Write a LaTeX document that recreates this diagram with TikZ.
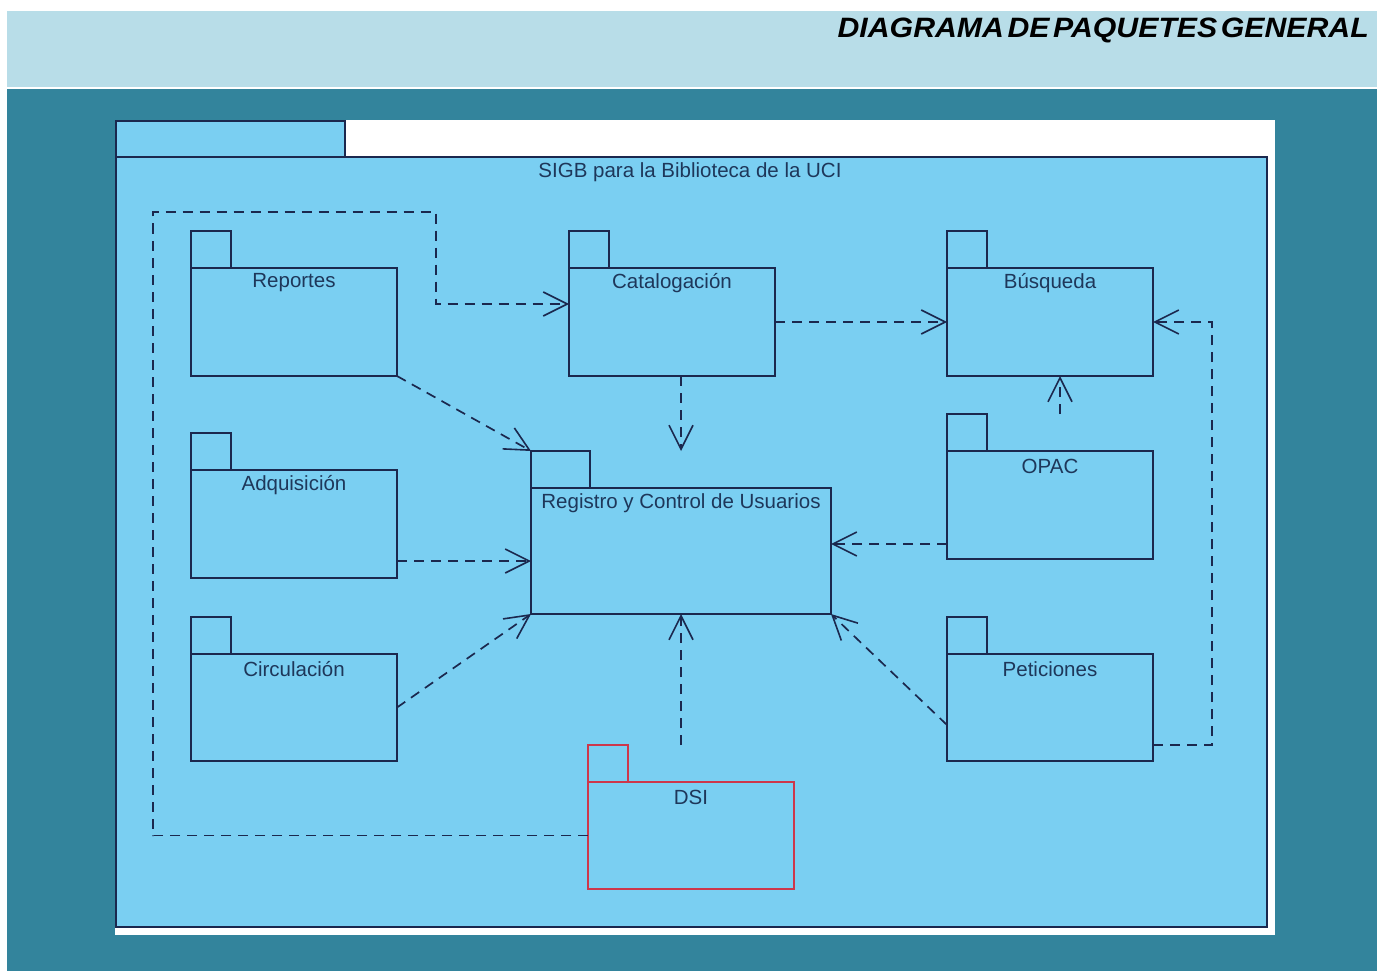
\documentclass[tikz,border=0pt]{standalone}
\usepackage{fontspec}
\setmainfont{Liberation Sans}
\usetikzlibrary{arrows.meta,calc}

\definecolor{band}{RGB}{184,221,232}
\definecolor{teal}{RGB}{51,132,156}
\definecolor{pkgfill}{RGB}{122,207,242}
\definecolor{ink}{RGB}{27,40,78}
\definecolor{txt}{RGB}{30,55,90}
\definecolor{dsired}{RGB}{205,55,75}

\tikzset{
  pkgline/.style={draw=ink, line width=1.8pt, fill=pkgfill, inner sep=0pt, outer sep=0pt},
  lbl/.style={text=txt, font=\fontsize{20.5}{22}\selectfont, inner sep=0pt},
  dep/.style={draw=ink, line width=1.7pt, dash pattern=on 10pt off 7pt,
    -{Straight Barb[length=24pt,width=24pt,line width=1.6pt]}}
}

% package: name, left x, tab top y, tab width, body width, body height, label, outline colour
\newcommand\umlpkg[8]{%
  \node[pkgline, draw=#8, minimum width=#4, minimum height=37, anchor=north west]
    (#1tab) at (#2,#3) {};
  \node[pkgline, draw=#8, minimum width=#5, minimum height=#6, anchor=north west]
    (#1) at (#2,{#3+37}) {};
  \node[lbl] (#1lbl) at ([yshift=-15pt]#1.north) {#7};
}

\begin{document}
\begin{tikzpicture}[x=1pt,y=-1pt]
  % page
  \fill[white] (0,0) rectangle (1377,971);
  \useasboundingbox (0,0) rectangle (1377,971);
  \fill[band] (7,11) rectangle (1377,87);
  \fill[teal] (7,89) rectangle (1377,971);
  \node[anchor=east, inner sep=0pt, text=black] (heading) at (1369,30.5)
    {\scalebox{1.08}[1]{\fontsize{28}{30}\selectfont\bfseries\itshape
      \spaceskip=0.12em DIAGRAMA DE PAQUETES GENERAL}};

  % white sheet and enclosing package
  \fill[white] (115,120) rectangle (1275,935);
  \node[pkgline, line width=1.5pt, minimum width=229, minimum height=36, anchor=north west]
    (sigbtab) at (116,121) {};
  \node[pkgline, line width=1.5pt, minimum width=1151, minimum height=770, anchor=north west]
    (sigb) at (116,157) {};
  \node[lbl] (sigblbl) at (690,172) {SIGB para la Biblioteca de la UCI};

  % inner packages
  \umlpkg{rep}{191}{231}{40}{206}{108}{Reportes}{ink}
  \umlpkg{cat}{569}{231}{40}{206}{108}{Catalogación}{ink}
  \umlpkg{bus}{947}{231}{40}{206}{108}{Búsqueda}{ink}
  \umlpkg{adq}{191}{433}{40}{206}{108}{Adquisición}{ink}
  \umlpkg{opac}{947}{414}{40}{206}{108}{OPAC}{ink}
  \umlpkg{circ}{191}{617}{40}{206}{107}{Circulación}{ink}
  \umlpkg{pet}{947}{617}{40}{206}{107}{Peticiones}{ink}
  \umlpkg{dsi}{588}{745}{40}{206}{107}{DSI}{dsired}
  \umlpkg{reg}{531}{451}{59}{300}{126}{Registro y Control de Usuarios}{ink}

  % connector end points on package borders
  \coordinate (catin)   at ([yshift=18pt]cat.west);
  \coordinate (adqout)  at ([yshift=17pt]adq.south east);
  \coordinate (opacout) at ([yshift=15pt]opac.south west);
  \coordinate (petout)  at ([yshift=36pt]pet.south west);
  \coordinate (petout2) at ([yshift=16pt]pet.south east);
  \coordinate (busin)   at ([xshift=10pt]bus.south);

  % bends
  \coordinate (b1) at (153,835.5);
  \coordinate (b2) at (153,212);
  \coordinate (b3) at (436,212);
  \coordinate (c1) at (1212,745);
  \coordinate (c2) at (1212,322);

  % dependencies
  \draw[dep] (dsi.west) -- (b1) -- (b2) -- (b3) |- (catin);
  \draw[dep] (cat.east) -- (bus.west);
  \draw[dep] (reg.north |- cat.south) -- (reg.north |- regtab.north);
  \draw[dep] (rep.south east) -- (regtab.north west);
  \draw[dep] (adqout) -- (reg.west |- adqout);
  \draw[dep] (circ.east) -- (reg.south west);
  \draw[dep] (reg.south |- dsitab.north) -- (reg.south);
  \draw[dep] (busin |- opactab.north) -- (busin);
  \draw[dep] (opacout) -- (reg.east |- opacout);
  \draw[dep] (petout) -- (reg.south east);
  \draw[dep] (petout2) -- (c1) -- (c2) -- (bus.east);
\end{tikzpicture}
\end{document}
